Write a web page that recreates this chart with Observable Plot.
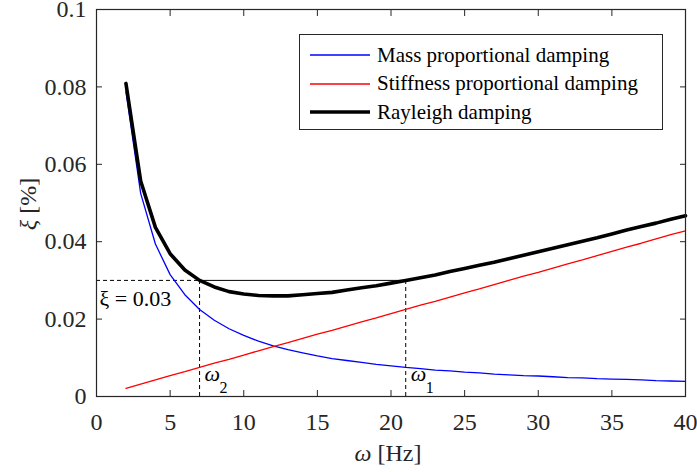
<!DOCTYPE html>
<html>
<head>
<meta charset="utf-8">
<script src="https://cdn.jsdelivr.net/npm/d3@7"></script>
<script src="https://cdn.jsdelivr.net/npm/@observablehq/plot@0.6"></script>
<style>
  html, body { margin: 0; padding: 0; background: #fff; }
  #wrap { position: relative; width: 697px; height: 472px; font-family: "Liberation Serif"; }
  #legend { position: absolute; left: 299px; top: 34px; width: 364px; height: 96px; border: 1px solid #262626; background: #fff; box-sizing: border-box; }
  .row { position: absolute; left: 0; height: 28px; display: flex; align-items: center; }
  .row svg { margin-left: 10px; margin-right: 7px; }
  .row span { font-size: 21px; color: #000; white-space: nowrap; font-family: "Liberation Serif"; }
</style>
</head>
<body>
<div id="wrap"><div id="legend"></div></div>
<script>
// ---- data ----
const omega = [2,3,4,5,6,7,8,9,10,11,12,13,14,15,16,17,18,19,20,21,22,23,24,25,26,27,28,29,30,31,32,33,34,35,36,37,38,39,40];
const massDamping = [0.0788,0.0525,0.0394,0.0315,0.0263,0.0225,0.0197,0.0175,0.0158,0.0143,0.0131,0.0121,0.0113,0.0105,0.0098,0.0093,0.0088,0.0083,0.0079,0.0075,0.0072,0.0068,0.0066,0.0063,0.0061,0.0058,0.0056,0.0054,0.0053,0.0051,0.0049,0.0048,0.0046,0.0045,0.0044,0.0043,0.0041,0.0040,0.0039];
const stiffnessDamping = [0.0021,0.0032,0.0043,0.0054,0.0064,0.0075,0.0086,0.0096,0.0107,0.0118,0.0129,0.0139,0.0150,0.0161,0.0171,0.0182,0.0193,0.0203,0.0214,0.0225,0.0236,0.0246,0.0257,0.0268,0.0278,0.0289,0.0300,0.0311,0.0321,0.0332,0.0343,0.0353,0.0364,0.0375,0.0386,0.0396,0.0407,0.0418,0.0428];
const rayleighDamping = [0.0809,0.0557,0.0437,0.0369,0.0327,0.0300,0.0283,0.0271,0.0265,0.0261,0.0260,0.0260,0.0263,0.0266,0.0269,0.0275,0.0281,0.0286,0.0293,0.0300,0.0307,0.0314,0.0323,0.0331,0.0339,0.0347,0.0356,0.0365,0.0374,0.0383,0.0392,0.0401,0.0410,0.0420,0.0430,0.0439,0.0448,0.0458,0.0467];
const seriesNames = ["Mass proportional damping", "Stiffness proportional damping", "Rayleigh damping"];
const seriesColors = ["#0000ff", "#ff0000", "#000000"];
const seriesWidths = [1.3, 1.3, 3.6];
const xTicks = [0,5,10,15,20,25,30,35,40];
const yTicks = [0,0.02,0.04,0.06,0.08,0.1];
const xiTarget = 0.03;
const omega2 = 7;
const omega1 = 21;
const xiLabel = "ξ = 0.03";

const mass = omega.map((w,i) => ({w, v: massDamping[i]}));
const stiff = omega.map((w,i) => ({w, v: stiffnessDamping[i]}));
const ray = omega.map((w,i) => ({w, v: rayleighDamping[i]}));
const fmtY = d => String(+d.toFixed(2));
const axisColor = "#262626";
const serif = "Liberation Serif";

const chart = Plot.plot({
  width: 697, height: 472,
  marginLeft: 96, marginRight: 12, marginTop: 9, marginBottom: 76,
  x: {domain: [0, 40]},
  y: {domain: [0, 0.1]},
  style: {fontFamily: serif, fontSize: "24px", color: axisColor, background: "#fff", overflow: "visible"},
  marks: [
    Plot.ruleY([xiTarget], {x1: 0, x2: omega2, stroke: "#000", strokeWidth: 1, strokeDasharray: "4,3"}),
    Plot.ruleY([xiTarget], {x1: omega2, x2: omega1, stroke: "#000", strokeWidth: 1}),
    Plot.ruleX([omega2, omega1], {y1: 0, y2: xiTarget, stroke: "#000", strokeWidth: 1, strokeDasharray: "4,3"}),
    Plot.line(mass, {x: "w", y: "v", stroke: seriesColors[0], strokeWidth: seriesWidths[0]}),
    Plot.line(stiff, {x: "w", y: "v", stroke: seriesColors[1], strokeWidth: seriesWidths[1]}),
    Plot.line(ray, {x: "w", y: "v", stroke: seriesColors[2], strokeWidth: seriesWidths[2], strokeLinejoin: "round"}),
    Plot.text([xiTarget], {x: 0, y: d => d, text: () => xiLabel, textAnchor: "start", dx: 3, dy: 18.5, fill: "#000", fontSize: 22}),
    Plot.text([omega2, omega1], {x: d => d, y: 0, text: () => "ω", textAnchor: "start", dx: 5, dy: -22.5, fill: "#000", fontSize: 22, fontStyle: "italic"}),
    Plot.text([["2", omega2], ["1", omega1]], {x: d => d[1], y: 0, text: d => d[0], textAnchor: "start", dx: 20, dy: -9, fill: "#000", fontSize: 16}),
    Plot.frame({stroke: axisColor, strokeWidth: 1.2}),
    Plot.axisX({anchor: "bottom", ticks: xTicks, tickSize: -6, tickPadding: 22, tickFormat: d => String(d), label: null, stroke: axisColor}),
    Plot.axisX({anchor: "top", ticks: xTicks, tickSize: -6, tickFormat: () => "", label: null, stroke: axisColor}),
    Plot.axisY({anchor: "left", ticks: yTicks, tickSize: -6, tickPadding: 16, tickFormat: fmtY, label: null, stroke: axisColor}),
    Plot.axisY({anchor: "right", ticks: yTicks, tickSize: -6, tickFormat: () => "", label: null, stroke: axisColor})
  ]
});

const wrap = document.getElementById("wrap");
wrap.insertBefore(chart, wrap.firstChild);

// axis titles with italic Greek symbols
const svg = d3.select(chart);
const xl = svg.append("text").attr("x", 388).attr("y", 461).attr("text-anchor", "middle")
  .attr("font-family", serif).attr("font-size", 24).attr("fill", axisColor);
xl.append("tspan").attr("font-style", "italic").text("ω");
xl.append("tspan").text(" [Hz]");
const yl = svg.append("text").attr("transform", "translate(36,204) rotate(-90)").attr("text-anchor", "middle")
  .attr("font-family", serif).attr("font-size", 24).attr("fill", axisColor);
yl.append("tspan").attr("font-style", "italic").text("ξ");
yl.append("tspan").text(" [%]");

// legend
const legend = document.getElementById("legend");
seriesNames.forEach((name, i) => {
  const row = document.createElement("div");
  row.className = "row";
  row.style.top = (6 + i * 28.5) + "px";
  row.innerHTML = `<svg width="60" height="6"><line x1="0" x2="60" y1="3" y2="3" stroke="${seriesColors[i]}" stroke-width="${i === 2 ? 3.6 : 1.5}"/></svg><span>${name}</span>`;
  legend.appendChild(row);
});
</script>
</body>
</html>
